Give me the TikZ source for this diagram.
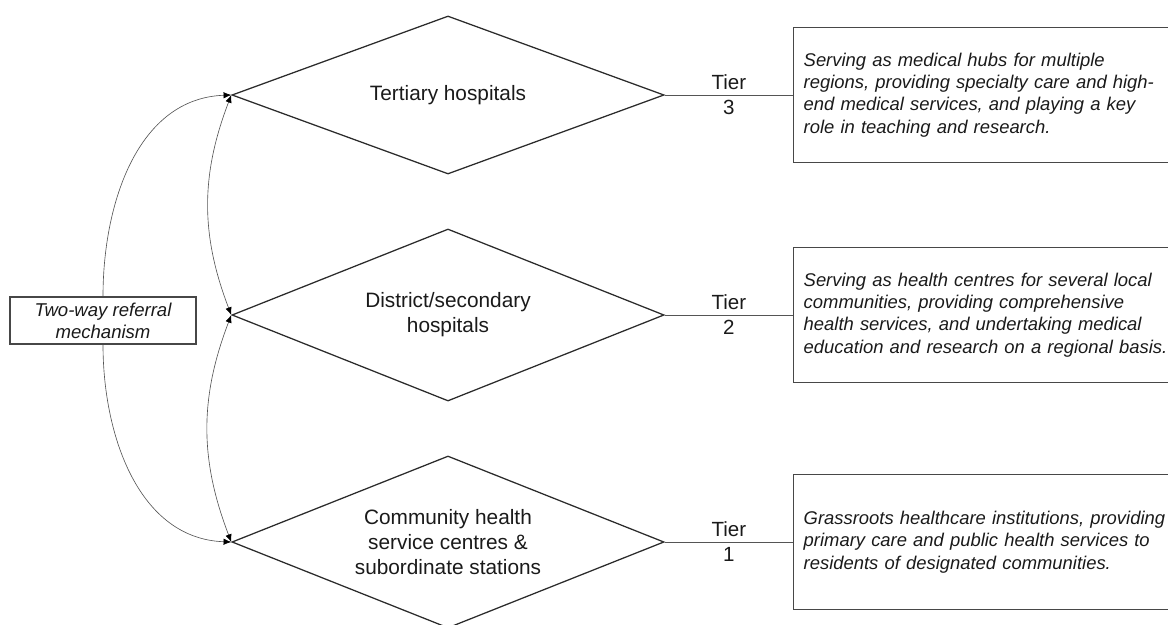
\documentclass[tikz,border=0pt]{standalone}
\usepackage{fontspec}
\setmainfont{Liberation Sans}
\usepackage{tikz}
\usetikzlibrary{arrows.meta,shapes.geometric}
\definecolor{edgedark}{HTML}{2B2B2B}
\definecolor{boxgray}{HTML}{474747}
\definecolor{curvegray}{HTML}{555555}
\definecolor{bodytext}{HTML}{1A1A1A}

\begin{document}
\begin{tikzpicture}[x=0.025cm, y=-0.025cm,
    tierdiamond/.style={diamond, draw=edgedark, line width=0.9pt, inner sep=0pt, aspect=2.7,
        minimum width=10.8cm, align=center, text=bodytext, font=\fontsize{14.8}{17.7}\selectfont},
    descbox/.style={rectangle, draw=boxgray, line width=1pt, text width=9.6cm, inner xsep=0.25cm,
        minimum height=3.375cm, align=left, text=bodytext, font=\fontsize{13.1}{15.9}\selectfont\itshape},
    refbox/.style={rectangle, draw=boxgray, line width=0.9pt, minimum width=4.65cm, minimum height=1.175cm,
        inner sep=1pt, align=center, text=bodytext, font=\fontsize{13.2}{15.6}\selectfont\itshape},
    tierlink/.style={draw=curvegray, line width=0.5pt},
    tierlabel/.style={text=bodytext, font=\fontsize{14.6}{16}\selectfont},
    oneway/.style={draw=curvegray, line width=0.45pt, -{Latex[length=5.5pt,width=4.5pt,color=black]}},
    twoway/.style={draw=curvegray, line width=0.45pt,
        {Latex[length=5.5pt,width=4.5pt,color=black]}-{Latex[length=5.5pt,width=4.5pt,color=black]}}]

    \useasboundingbox (0,0) rectangle (1168,624);

    % Hospital tiers (diamonds)
    \node[tierdiamond, minimum height=3.95cm] (tier3) at (448,95) {Tertiary hospitals};
    \node[tierdiamond, minimum height=4.3cm] (tier2) at (448,315) {District/secondary\\hospitals};
    \node[tierdiamond, minimum height=4.3cm] (tier1) at (448,542) {Community health\\service centres \&\\subordinate stations};

    % Descriptions
    \node[descbox, anchor=west] (desc3) at (793,95) {Serving as medical hubs for multiple\\regions, providing specialty care and high-\\end medical services, and playing a key\\role in teaching and research.};
    \node[descbox, anchor=west] (desc2) at (793,315) {Serving as health centres for several local\\communities, providing comprehensive\\health services, and undertaking medical\\education and research on a regional basis.};
    \node[descbox, anchor=west] (desc1) at (793,542) {Grassroots healthcare institutions, providing\\primary care and public health services to\\residents of designated communities.};

    % Tier links
    \draw[tierlink] (tier3.east) -- node[above, tierlabel] {Tier} node[below, tierlabel] {3} (desc3.west);
    \draw[tierlink] (tier2.east) -- node[above, tierlabel] {Tier} node[below, tierlabel] {2} (desc2.west);
    \draw[tierlink] (tier1.east) -- node[above, tierlabel] {Tier} node[below, tierlabel] {1} (desc1.west);

    % Referral mechanism
    \node[refbox] (referral) at (103,320.5) {Two-way referral\\mechanism};
    \draw[oneway] (referral.north) to[out=90, in=182] (tier3.west);
    \draw[oneway] (referral.south) to[out=270, in=178] (tier1.west);
    \draw[twoway] (tier3.west) to[out=249, in=111] (tier2.west);
    \draw[twoway] (tier2.west) to[out=249, in=111] (tier1.west);
\end{tikzpicture}
\end{document}
